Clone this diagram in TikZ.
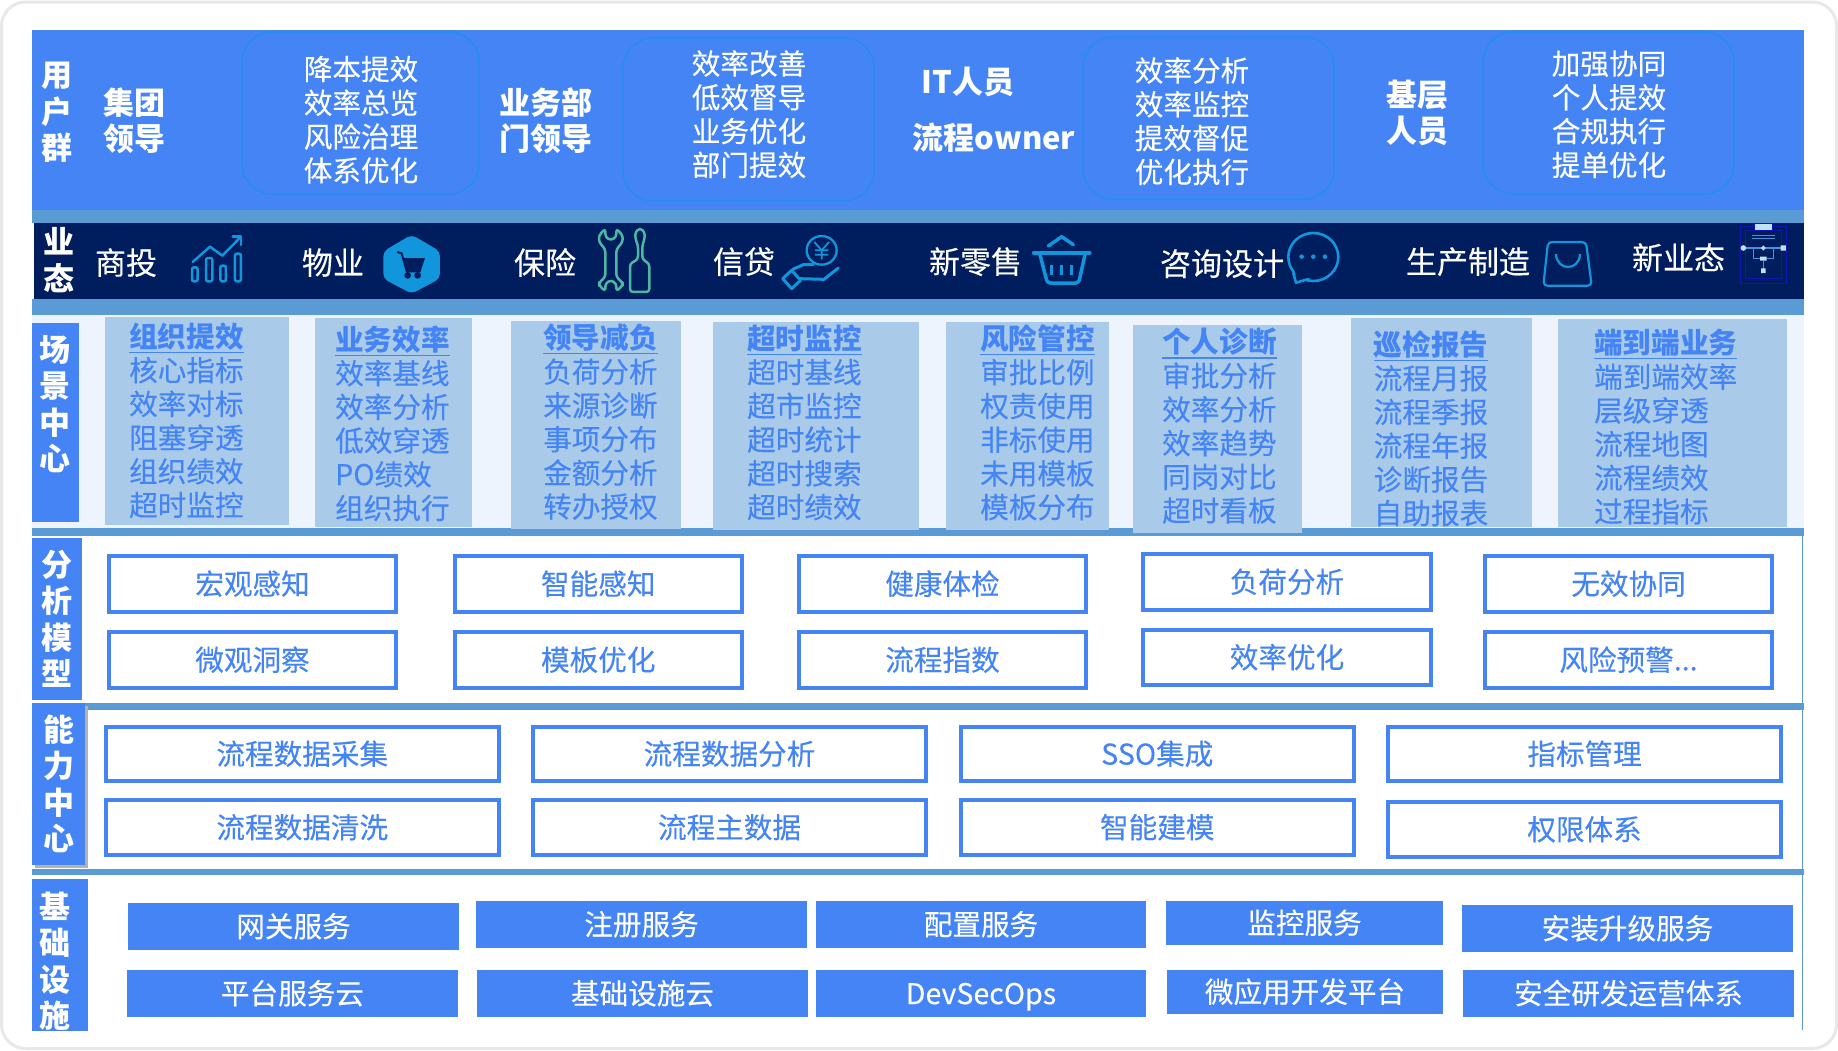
\documentclass[tikz,border=0pt]{standalone}
\usepackage{fontspec}
\setmainfont{Noto Sans CJK SC}[UprightFeatures={FakeBold=0.25}]
\definecolor{mainblue}{HTML}{4484F4}
\definecolor{strip}{HTML}{5B9BD5}
\definecolor{navy}{HTML}{001D5E}
\definecolor{scenebg}{HTML}{EEF4FD}
\definecolor{panel}{HTML}{A9CBE9}
\definecolor{ringblue}{HTML}{1E90F0}
\definecolor{icon}{HTML}{1296DB}
\definecolor{teal}{HTML}{4DB6A5}
\definecolor{flowdark}{HTML}{1414B4}
\definecolor{flowline}{HTML}{4A90E2}
\definecolor{flowlight}{HTML}{BFE3FF}
\newcommand\vsa{\rule[-3.4pt]{0pt}{28pt}}
\newcommand\vsb{\rule[-3.6pt]{0pt}{30pt}}
\newcommand\hdr[2]{\rlap{\rule[-5.6pt]{#1em}{1.2pt}}\textbf{#2}}
% style, name, x1, y1, x2, y2, text
\newcommand\bbox[7]{\node[#1,name=#2,minimum width={#5-#3},minimum height={#6-#4}] at ({(#3+#5)/2},{(#4+#6)/2}) {#7};}
\newcommand\obox[6]{\node[outlinebox,name=#1,minimum width={#4-#2-4},minimum height={#5-#3-4}] at ({(#2+#4)/2},{(#3+#5)/2}) {#6};}
\tikzset{
  stripbar/.style={fill=strip,draw=none},
  sidelabel/.style={fill=mainblue,draw=none,inner sep=0pt,outer sep=0pt},
  sidetext/.style={text=white,font=\fontsize{31}{36.5}\selectfont\bfseries,align=center,inner sep=0pt},
  fillbox/.style={fill=mainblue,draw=none,text=white,inner sep=0pt,outer sep=0pt,font=\fontsize{28.6}{34}\selectfont,text height=24.6pt,text depth=3.4pt},
  outlinebox/.style={draw=mainblue,line width=4pt,fill=white,text=mainblue,inner sep=0pt,outer sep=0pt,font=\fontsize{28.6}{34}\selectfont,text height=24.6pt,text depth=3.4pt},
  ringbox/.style={draw=ringblue,line width=1.2pt,rounded corners=30pt,inner sep=0pt,outer sep=0pt},
  usertext/.style={text=white,font=\fontsize{28.6}{33.8}\selectfont,align=center,inner sep=0pt},
  grouptext/.style={text=white,font=\fontsize{31}{36}\selectfont\bfseries,align=center,inner sep=0pt},
  biztext/.style={text=white,font=\fontsize{31}{36}\selectfont,text height=26.4pt,text depth=3.6pt,inner sep=0pt},
  panelbox/.style={fill=panel,draw=none,inner sep=0pt,outer sep=0pt},
  paneltext/.style={text=mainblue,font=\fontsize{28.6}{33.7}\selectfont,align=left,anchor=west,inner sep=0pt},
  zoomed/.style={x=0.3333pt,y=-0.3333pt},
  iconline/.style={draw=icon,line width=2.5pt,line join=round,line cap=round},
}
\begin{document}
\begin{tikzpicture}[x=1pt,y=-1pt]
\useasboundingbox (0,0) rectangle (1838,1050);
% frame
\path[fill=white,draw=black!9,line width=3pt,rounded corners=24pt] (1.5,2) rectangle (1836.5,1048.5);
% bands
\path[fill=mainblue] (32,30) rectangle (1804,210);
\path[stripbar] (32,210) rectangle (1804,223);
\path[fill=navy] (33.5,223) rectangle (1804,299);
\path[stripbar] (32,299) rectangle (1804,315);
\path[fill=scenebg] (32,315) rectangle (1804,528);
\path[stripbar] (32,528) rectangle (1804,536);
\path[stripbar] (32,703) rectangle (1804,709.5);
\path[stripbar] (32,869) rectangle (1804,875);
\draw[strip,line width=1.5pt] (1802.5,536) -- (1802.5,1030);
% user group
\node[sidetext] (lblUser) at (57,112) {\vsb 用\\\vsb 户\\\vsb 群};
\node[grouptext] (g1) at (134,121) {\vsb 集团\\\vsb 领导};
\node[grouptext] (g2) at (546,121) {\vsb 业务部\\\vsb 门领导};
\node[grouptext,text height=26.4pt,text depth=3.6pt] (g3a) at (968,82) {IT人员};
\node[grouptext,text height=26.4pt,text depth=3.6pt] (g3b) at (994,138) {流程owner};
\node[grouptext] (g4) at (1417,113) {\vsb 基层\\\vsb 人员};
\bbox{ringbox}{r1}{242}{32}{479}{194}{}
\bbox{ringbox}{r2}{623}{38}{874}{201}{}
\bbox{ringbox}{r3}{1083}{37}{1334}{199}{}
\bbox{ringbox}{r4}{1483}{32}{1734}{194}{}
\node[usertext] (u1) at (361,120) {\vsa 降本提效\\\vsa 效率总览\\\vsa 风险治理\\\vsa 体系优化};
\node[usertext] (u2) at (749,114.5) {\vsa 效率改善\\\vsa 低效督导\\\vsa 业务优化\\\vsa 部门提效};
\node[usertext] (u3) at (1192,121.5) {\vsa 效率分析\\\vsa 效率监控\\\vsa 提效督促\\\vsa 优化执行};
\node[usertext] (u4) at (1609,114.5) {\vsa 加强协同\\\vsa 个人提效\\\vsa 合规执行\\\vsa 提单优化};
% business row
\node[sidetext] (lblBiz) at (59,260.5) {\vsb 业\\\vsb 态};
\node[biztext] (b1) at (126,263) {商投};
\node[biztext] (b2) at (333,263) {物业};
\node[biztext] (b3) at (545,263) {保险};
\node[biztext] (b4) at (744,262) {信贷};
\node[biztext] (b5) at (975.5,262) {新零售};
\node[biztext] (b6) at (1222,264) {咨询设计};
\node[biztext] (b7) at (1468,262) {生产制造};
\node[biztext] (b8) at (1678.5,258) {新业态};
% chart icon
\begin{scope}[shift={(180,222)},zoomed]
  \foreach \xa/\xb/\ya in {36/53/136,78/97/108,121/138/131,165/183/95}
    \draw[iconline,rounded corners=2pt] (\xa,\ya) rectangle (\xb,178);
  \draw[iconline] (38,120) -- (90,74) -- (127,101) -- (183,44);
  \draw[iconline] (158,44) -- (183,44) -- (183,69);
\end{scope}
% hexagon cart
\begin{scope}[shift={(180,222)},zoomed]
  \path[fill=icon,rounded corners=5pt] (695,38) -- (780,88) -- (780,170) -- (695,215) -- (610,170) -- (610,88) -- cycle;
  \draw[navy,line width=2pt,line join=round] (652,90) -- (665,94) -- (680,148) -- (722,148);
  \path[fill=navy] (670,108) -- (735,108) -- (722,148) -- (680,148) -- cycle;
  \path[fill=navy] (683,160) circle [radius=3.4pt] (713,160) circle [radius=3.4pt];
\end{scope}
% tools
\begin{scope}[shift={(590,222)},zoomed]
  \draw[teal,line width=2.5pt,rounded corners=3pt,line join=round] (46,20) -- (46,45) -- (62,55) -- (79,45) -- (79,20) -- (98,40) -- (98,60) -- (79,82) -- (79,165) -- (98,182) -- (98,190) -- (79,208) -- (79,185) -- (62,174) -- (46,185) -- (46,208) -- (27,190) -- (27,182) -- (46,165) -- (46,82) -- (27,60) -- (27,40) -- cycle;
  \draw[teal,line width=2.5pt,rounded corners=3pt,line join=round] (150,18) -- (136,30) -- (136,50) -- (144,70) -- (144,112) -- (120,125) -- (120,210) -- (178,210) -- (178,125) -- (157,112) -- (157,70) -- (164,50) -- (164,30) -- cycle;
\end{scope}
% hand and coin
\begin{scope}[shift={(590,222)},zoomed]
  \draw[icon,line width=2.3pt] (695,85) ellipse [x radius=45,y radius=43];
  \draw[icon,line width=1.8pt] (673,60) -- (695,85) -- (717,60) (695,85) -- (695,112) (675,85) -- (715,85) (675,98) -- (715,98);
  \draw[iconline,line width=3pt] (578,170) -- (605,145) -- (632,175) -- (605,200) -- cycle;
  \draw[iconline,line width=3pt] (608,142) -- (640,128) -- (670,128);
  \draw[iconline,line width=3pt] (628,170) -- (702,172) -- (745,138);
\end{scope}
% basket
\begin{scope}[shift={(1020,222)},zoomed]
  \draw[icon,line width=4.5pt,line cap=round] (42,93) -- (208,93);
  \draw[icon,line width=3.5pt,line cap=round,line join=round] (85,72) -- (125,44) -- (160,68);
  \draw[icon,line width=3.5pt,rounded corners=3pt] (60,98) -- (82,183) -- (176,183) -- (195,98);
  \draw[icon,line width=3pt] (95,130) -- (95,158) (125,130) -- (125,158) (155,130) -- (155,158);
\end{scope}
% chat
\begin{scope}[shift={(1020,222)},zoomed]
  \draw[icon,line width=2.6pt] (880,105) ellipse [x radius=75,y radius=72];
  \path[fill=navy] (824,145) -- (830,176) -- (865,170) -- (845,150) -- cycle;
  \draw[iconline,line width=2.6pt] (820,153) -- (828,182) -- (866,171);
  \path[fill=icon] (845,104) circle [radius=2.3pt] (880,104) circle [radius=2.3pt] (915,104) circle [radius=2.3pt];
\end{scope}
% bag
\begin{scope}[shift={(1530,218)},zoomed]
  \draw[icon,line width=2.2pt,rounded corners=4pt] (54,72) -- (168,72) -- (185,203) -- (40,203) -- cycle;
  \draw[icon,line width=2.2pt] (78,108) .. controls (80,160) and (148,160) .. (150,108);
\end{scope}
% flow
\begin{scope}[shift={(1530,218)},zoomed]
  \draw[flowdark,line width=0.9pt] (630,25) rectangle (770,195) (645,38) rectangle (755,180);
  \draw[flowline,line width=0.9pt] (665,53) -- (735,53) (665,62) -- (735,62);
  \draw[flowline,line width=1.1pt] (640,90) -- (760,90) (670,90) -- (670,122) -- (690,122) (730,90) -- (730,122) -- (710,122) (700,128) -- (700,152);
  \path[fill=flowlight,draw=flowdark,line width=0.6pt] (673,15) rectangle (727,38);
  \path[fill=flowlight] (640,90) circle [radius=2.8pt] (693,90) -- (700,82) -- (707,90) -- (700,98) -- cycle (752,82) rectangle (768,98) (690,116) rectangle (710,128) (693,151) rectangle (707,165);
\end{scope}
% scene center
\bbox{sidelabel}{sideScene}{32}{323}{79}{522}{}
\node[sidetext] (lblScene) at (55,404.5) {\vsb 场\\\vsb 景\\\vsb 中\\\vsb 心};
\bbox{panelbox}{p1}{104.5}{317}{289}{525}{}
\bbox{panelbox}{p2}{315}{318}{472}{527}{}
\bbox{panelbox}{p3}{510.5}{321}{681}{529}{}
\bbox{panelbox}{p4}{712.5}{322}{918.5}{530}{}
\bbox{panelbox}{p5}{945.5}{322}{1109}{530}{}
\bbox{panelbox}{p6}{1133}{325}{1302}{533}{}
\bbox{panelbox}{p7}{1350.5}{318}{1532}{527}{}
\bbox{panelbox}{p8}{1558}{319}{1786.5}{527}{}
\node[paneltext] (pt1) at (129,421) {\vsa\hdr{4}{组织提效}\\\vsa 核心指标\\\vsa 效率对标\\\vsa 阻塞穿透\\\vsa 组织绩效\\\vsa 超时监控};
\node[paneltext] (pt2) at (335,424) {\vsa\hdr{4}{业务效率}\\\vsa 效率基线\\\vsa 效率分析\\\vsa 低效穿透\\\vsa PO绩效\\\vsa 组织执行};
\node[paneltext] (pt3) at (543,422.5) {\vsa\hdr{4}{领导减负}\\\vsa 负荷分析\\\vsa 来源诊断\\\vsa 事项分布\\\vsa 金额分析\\\vsa 转办授权};
\node[paneltext] (pt4) at (747,423) {\vsa\hdr{4}{超时监控}\\\vsa 超时基线\\\vsa 超市监控\\\vsa 超时统计\\\vsa 超时搜索\\\vsa 超时绩效};
\node[paneltext] (pt5) at (980,423) {\vsa\hdr{4}{风险管控}\\\vsa 审批比例\\\vsa 权责使用\\\vsa 非标使用\\\vsa 未用模板\\\vsa 模板分布};
\node[paneltext] (pt6) at (1162,426.5) {\vsa\hdr{4}{个人诊断}\\\vsa 审批分析\\\vsa 效率分析\\\vsa 效率趋势\\\vsa 同岗对比\\\vsa 超时看板};
\node[paneltext] (pt7) at (1373.6,429) {\vsa\hdr{4}{巡检报告}\\\vsa 流程月报\\\vsa 流程季报\\\vsa 流程年报\\\vsa 诊断报告\\\vsa 自助报表};
\node[paneltext] (pt8) at (1594,427.5) {\vsa\hdr{5}{端到端业务}\\\vsa 端到端效率\\\vsa 层级穿透\\\vsa 流程地图\\\vsa 流程绩效\\\vsa 过程指标};
% analysis
\bbox{sidelabel}{sideModel}{32}{538}{82}{700}{}
\node[sidetext] (lblModel) at (57,619.5) {\vsb 分\\\vsb 析\\\vsb 模\\\vsb 型};
\obox{m11}{107}{554}{398}{614}{宏观感知}
\obox{m12}{452.5}{554}{744}{614}{智能感知}
\obox{m13}{797}{554}{1088}{614}{健康体检}
\obox{m14}{1141}{552}{1433}{612}{负荷分析}
\obox{m15}{1483}{554}{1774}{614}{无效协同}
\obox{m21}{107}{630}{398}{690}{微观洞察}
\obox{m22}{452.5}{630}{744}{690}{模板优化}
\obox{m23}{797}{630}{1088}{690}{流程指数}
\obox{m24}{1141}{628}{1433}{687}{效率优化}
\obox{m25}{1483}{630}{1774}{690}{风险预警...}
% capability
\path[fill=black!30] (35,706) rectangle (88,868);
\bbox{sidelabel}{sideAbility}{32}{703}{85}{865}{}
\node[sidetext] (lblAbility) at (59,784.5) {\vsb 能\\\vsb 力\\\vsb 中\\\vsb 心};
\obox{c11}{104}{725}{500.5}{783}{流程数据采集}
\obox{c12}{531}{725}{928}{783}{流程数据分析}
\obox{c13}{958.5}{725}{1356}{783}{SSO集成}
\obox{c14}{1386}{725}{1783}{783}{指标管理}
\obox{c21}{104}{798}{500.5}{857}{流程数据清洗}
\obox{c22}{531}{798}{928}{857}{流程主数据}
\obox{c23}{958.5}{798}{1356}{857}{智能建模}
\obox{c24}{1386}{800}{1783}{859}{权限体系}
% infrastructure
\bbox{sidelabel}{sideInfra}{32}{879}{88}{1031}{}
\node[sidetext] (lblInfra) at (55,961.5) {\vsb 基\\\vsb 础\\\vsb 设\\\vsb 施};
\bbox{fillbox}{i11}{128}{903}{459}{950}{网关服务}
\bbox{fillbox}{i12}{476}{901}{807}{948}{注册服务}
\bbox{fillbox}{i13}{816}{901}{1146}{948}{配置服务}
\bbox{fillbox}{i14}{1166}{901}{1443}{945}{监控服务}
\bbox{fillbox}{i15}{1462}{905}{1793}{952}{安装升级服务}
\bbox{fillbox}{i21}{127}{970}{458}{1017}{平台服务云}
\bbox{fillbox}{i22}{477}{970}{808}{1017}{基础设施云}
\bbox{fillbox}{i23}{816}{970}{1146}{1017}{DevSecOps}
\bbox{fillbox}{i24}{1167}{970}{1443}{1014}{微应用开发平台}
\bbox{fillbox}{i25}{1463}{970}{1794}{1017}{安全研发运营体系}
\end{tikzpicture}
\end{document}
